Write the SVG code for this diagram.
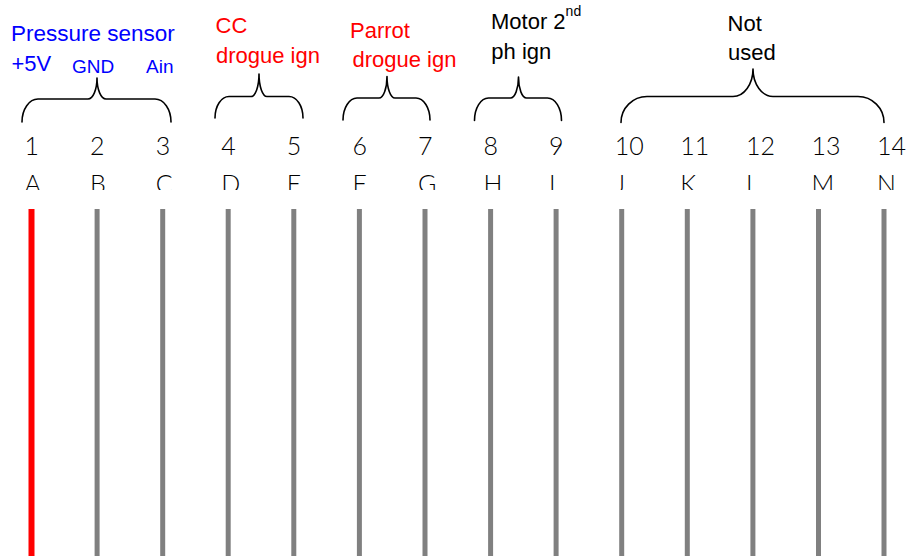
<svg xmlns="http://www.w3.org/2000/svg" width="911" height="558" viewBox="0 0 911 558">
  <style>
    .lbl { font-family: "Liberation Sans", Arial, sans-serif; font-size: 22px; }
    .blue { fill: #0000ff; }
    .red { fill: #ff0000; }
    .black { fill: #000000; }
    .pin { font-family: Lato, "Liberation Sans", Arial, sans-serif; font-weight: 300; font-size: 25px; fill: #000000; }
    .brace { fill: none; stroke: #000000; stroke-width: 1.6; stroke-linecap: round; stroke-linejoin: round; }
    .wire { stroke: #808080; stroke-width: 5; }
    .wire-hot { stroke: #ff0000; stroke-width: 6; }
  </style>
  <defs>
    <clipPath id="letterClip">
      <rect x="0" y="160" width="911" height="30"/>
    </clipPath>
  </defs>
  <rect width="911" height="558" fill="#ffffff"/>

  <!-- Group labels -->
  <g id="pressure-sensor">
    <text class="lbl blue" x="11" y="41" style="font-size:22.5px">Pressure sensor</text>
    <text class="lbl blue" x="11.5" y="70.7">+5V</text>
    <text class="lbl blue" x="72" y="72.7" style="font-size:19px">GND</text>
    <text class="lbl blue" x="146" y="72.7" style="font-size:19px">Ain</text>
    <path class="brace" d="M22,122 C22,109.3 29.2,99 38,99 L88,99 C93,99 97,89.6 97,78 C97,89.6 101,99 106,99 L155,99 C163.8,99 171,109.3 171,122"/>
  </g>
  <g id="cc-drogue">
    <text class="lbl red" x="215.5" y="33.3">CC</text>
    <text class="lbl red" x="216" y="63">drogue ign</text>
    <path class="brace" d="M215,118 C215,106.1 221.3,96.5 229,96.5 L251,96.5 C255.4,96.5 259,86.4 259,74 C259,86.4 262.6,96.5 267,96.5 L289,96.5 C296.7,96.5 303,106.1 303,118"/>
  </g>
  <g id="parrot-drogue">
    <text class="lbl red" x="350" y="38.3">Parrot</text>
    <text class="lbl red" x="352.5" y="66.7">drogue ign</text>
    <path class="brace" d="M343,120 C343,107.9 349.3,98 357,98 L379,98 C383.4,98 387,88.4 387,76.5 C387,88.4 390.6,98 395,98 L416,98 C423.7,98 430,107.9 430,120"/>
  </g>
  <g id="motor-2nd">
    <text class="lbl black" x="491" y="28.5">Motor 2<tspan dy="-12.5" style="font-size:14px">nd</tspan></text>
    <text class="lbl black" x="491.3" y="58.5">ph ign</text>
    <path class="brace" d="M474.5,120.5 C474.5,108.1 480.8,98 488.5,98 L510.5,98 C514.9,98 518.5,88.6 518.5,77 C518.5,88.6 522.1,98 526.5,98 L547.5,98 C555.2,98 561.5,108.1 561.5,120.5"/>
  </g>
  <g id="not-used">
    <text class="lbl black" x="727.6" y="30.7">Not</text>
    <text class="lbl black" x="728" y="60">used</text>
    <path class="brace" d="M621,122.5 C621,108.2 632.7,96.5 647,96.5 L733,96.5 C744,96.5 753,84.2 753,69 C753,84.2 762,96.5 773,96.5 L858,96.5 C872.3,96.5 884,108.2 884,122.5"/>
  </g>

  <!-- Pin numbers -->
  <g id="pin-numbers">
    <text class="pin" x="24.5" y="155">1</text>
    <text class="pin" x="90.1" y="155">2</text>
    <text class="pin" x="155.7" y="155">3</text>
    <text class="pin" x="221.2" y="155">4</text>
    <text class="pin" x="286.8" y="155">5</text>
    <text class="pin" x="352.4" y="155">6</text>
    <text class="pin" x="418" y="155">7</text>
    <text class="pin" x="483.6" y="155">8</text>
    <text class="pin" x="549.1" y="155">9</text>
    <text class="pin" x="614.7" y="155">10</text>
    <text class="pin" x="680.3" y="155">11</text>
    <text class="pin" x="745.9" y="155">12</text>
    <text class="pin" x="811.5" y="155">13</text>
    <text class="pin" x="877" y="155">14</text>
  </g>

  <!-- Pin letters, cut off along their lower edge -->
  <g id="pin-letters" clip-path="url(#letterClip)">
    <text class="pin" x="24.5" y="193">A</text>
    <text class="pin" x="90.1" y="193">B</text>
    <text class="pin" x="155.7" y="193">C</text>
    <text class="pin" x="221.2" y="193">D</text>
    <text class="pin" x="286.8" y="193">E</text>
    <text class="pin" x="352.4" y="193">F</text>
    <text class="pin" x="418" y="193">G</text>
    <text class="pin" x="483.6" y="193">H</text>
    <text class="pin" x="549.1" y="193">I</text>
    <text class="pin" x="614.7" y="193">J</text>
    <text class="pin" x="680.3" y="193">K</text>
    <text class="pin" x="745.9" y="193">L</text>
    <text class="pin" x="811.5" y="193">M</text>
    <text class="pin" x="877" y="193">N</text>
  </g>

  <!-- Wires -->
  <g id="wires">
    <line class="wire-hot" x1="31.5" y1="209" x2="31.5" y2="556"/>
    <line class="wire" x1="97.1" y1="209" x2="97.1" y2="556"/>
    <line class="wire" x1="162.7" y1="209" x2="162.7" y2="556"/>
    <line class="wire" x1="228.2" y1="209" x2="228.2" y2="556"/>
    <line class="wire" x1="293.8" y1="209" x2="293.8" y2="556"/>
    <line class="wire" x1="359.4" y1="209" x2="359.4" y2="556"/>
    <line class="wire" x1="425" y1="209" x2="425" y2="556"/>
    <line class="wire" x1="490.6" y1="209" x2="490.6" y2="556"/>
    <line class="wire" x1="556.1" y1="209" x2="556.1" y2="556"/>
    <line class="wire" x1="621.7" y1="209" x2="621.7" y2="556"/>
    <line class="wire" x1="687.3" y1="209" x2="687.3" y2="556"/>
    <line class="wire" x1="752.9" y1="209" x2="752.9" y2="556"/>
    <line class="wire" x1="818.5" y1="209" x2="818.5" y2="556"/>
    <line class="wire" x1="884" y1="209" x2="884" y2="556"/>
  </g>
</svg>
